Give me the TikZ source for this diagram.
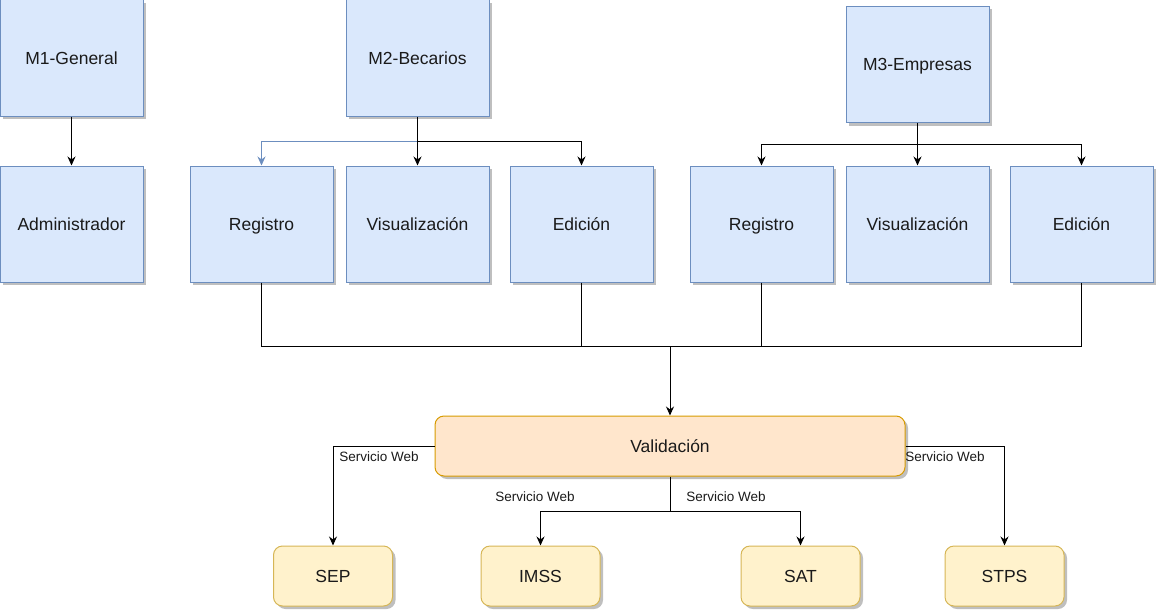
\documentclass[tikz,border=0pt]{standalone}
\usepackage{fontspec}
\setmainfont{Liberation Sans}
\usetikzlibrary{shadows,arrows.meta}
\definecolor{bfill}{HTML}{DAE8FC}
\definecolor{bline}{HTML}{6C8EBF}
\definecolor{ofill}{HTML}{FFE6CC}
\definecolor{oline}{HTML}{D79B00}
\definecolor{yfill}{HTML}{FFF2CC}
\definecolor{yline}{HTML}{D6B656}
\definecolor{txt}{HTML}{1A1A1A}
\tikzset{
  shade3/.style={drop shadow={shadow xshift=3pt,shadow yshift=-3pt,fill=black!25,opacity=1}},
  boxtext/.style={inner sep=0pt,font=\fontsize{17.5}{20}\selectfont,text=txt,text height=12.5pt,text depth=0pt},
  modbox/.style={draw=bline,fill=bfill,line width=1pt,shade3,minimum width=143pt,minimum height=116pt,boxtext},
  valbox/.style={draw=oline,fill=ofill,line width=1pt,shade3,rounded corners=9pt,minimum width=470pt,
    minimum height=60pt,boxtext},
  extbox/.style={draw=yline,fill=yfill,line width=1pt,shade3,rounded corners=9pt,minimum width=119pt,
    minimum height=60pt,boxtext},
  lbl/.style={font=\fontsize{13.5}{16}\selectfont,text=txt,inner sep=0pt},
  conn/.style={line width=1pt,black},
  arr/.style={conn,-{Stealth[length=9pt,width=8pt]}},
}
\begin{document}
\begin{tikzpicture}[x=1pt,y=-1pt]
\useasboundingbox (0,0) rectangle (1156,610);

% module headers
\node[modbox] (m1) at (71.5,58) {M1-General};
\node[modbox] (m2) at (417.5,58) {M2-Becarios};
\node[modbox] (m3) at (917.5,64.5) {M3-Empresas};

% second row
\node[modbox] (adm)  at (71.5,224)  {Administrador};
\node[modbox] (reg1) at (261.5,224) {Registro};
\node[modbox] (vis1) at (417.5,224) {Visualización};
\node[modbox] (edi1) at (581.5,224) {Edición};
\node[modbox] (reg2) at (761.5,224) {Registro};
\node[modbox] (vis2) at (917.5,224) {Visualización};
\node[modbox] (edi2) at (1081.5,224) {Edición};

% validation and external services
\node[valbox] (val) at (670,446) {Validación};
\node[extbox] (sep)  at (333,576)    {SEP};
\node[extbox] (imss) at (540.5,576)  {IMSS};
\node[extbox] (sat)  at (800.5,576)  {SAT};
\node[extbox] (stps) at (1004.5,576) {STPS};

% M1
\draw[arr] (m1) -- (adm);

% M2 branches
\coordinate (j2) at (417.5,141);
\draw[conn] (m2.south) -- (j2);
\draw[arr,bline] (j2) -| (reg1.north);
\draw[arr] (j2) -| (edi1.north);
\draw[arr] (j2) -- (vis1.north);

% M3 branches
\coordinate (j3) at (917.5,144);
\draw[conn] (m3.south) -- (j3);
\draw[arr] (j3) -| (reg2.north);
\draw[arr] (j3) -| (edi2.north);
\draw[arr] (j3) -- (vis2.north);

% collector bus into validation
\coordinate (bus) at (670,346);
\draw[conn] (reg1.south) -- (reg1.south |- bus) -- (edi2.south |- bus) -- (edi2.south);
\draw[conn] (edi1.south) -- (edi1.south |- bus);
\draw[conn] (reg2.south) -- (reg2.south |- bus);
\draw[arr] (bus) -- (val.north);

% web services
\draw[arr] (val.west) -| (sep.north);
\draw[arr] (val.east) -| (stps.north);
\coordinate (vb) at (670,511);
\draw[conn] (val.south) -- (vb);
\draw[arr] (vb) -| (imss.north);
\draw[arr] (vb) -| (sat.north);

\node[lbl] (l1) at (379,457) {Servicio Web};
\node[lbl] (l2) at (945,457) {Servicio Web};
\node[lbl] (l3) at (535,497) {Servicio Web};
\node[lbl] (l4) at (726,497) {Servicio Web};
\end{tikzpicture}
\end{document}
